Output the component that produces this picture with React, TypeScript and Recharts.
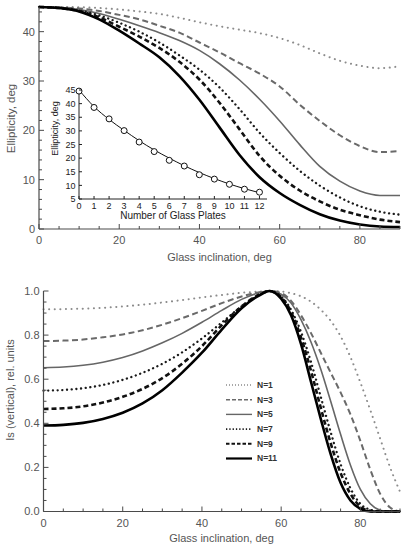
import React from 'react';
import { LineChart, Line, XAxis, YAxis, Legend } from 'recharts';

const FONT = "'Liberation Sans', Arial, Helvetica, sans-serif";
const AXIS_COLOR = '#4a4a4a';
const TICK_TEXT = '#555555';
const TITLE_TEXT = '#555555';

// ---------------- Panel (a): ellipticity vs glass inclination ----------------
const angleA = [0, 5, 10, 15, 20, 25, 30, 35, 40, 45, 50, 55, 60, 65, 70, 75, 80, 85, 90];
const ellipN1 = [45, 45, 44.95, 44.8, 44.5, 44.1, 43.6, 42.8, 41.9, 41.1, 40.4, 39.7, 38.7, 37.3, 35.6, 34.1, 33.1, 32.6, 33.0];
const ellipN3 = [45, 44.9, 44.7, 44.2, 43.4, 42.5, 41.2, 39.8, 37.8, 35.8, 33.6, 31.5, 28.9, 25.2, 21.9, 19.0, 16.8, 15.6, 15.8];
const ellipN5 = [45, 44.9, 44.5, 43.7, 42.5, 41.2, 39.8, 38.2, 36.2, 33.5, 30.2, 26.3, 21.9, 17.1, 12.7, 9.7, 7.7, 6.8, 6.8];
const ellipN7 = [45, 44.8, 44.3, 43.3, 41.8, 40.0, 37.8, 35.2, 32.3, 28.7, 24.3, 19.5, 15.4, 11.8, 8.8, 6.4, 4.6, 3.5, 2.9];
const ellipN9 = [45, 44.8, 44.2, 42.9, 41.0, 39.0, 36.7, 33.9, 30.3, 25.6, 20.2, 14.8, 10.8, 7.8, 5.6, 3.9, 2.8, 1.9, 1.4];
const ellipN11 = [45, 44.8, 44.1, 42.5, 40.2, 37.6, 34.8, 31.0, 26.2, 20.6, 15.0, 10.5, 7.3, 4.9, 3.0, 1.7, 0.9, 0.5, 0.4];

// ---------------- Panel (b): Is (vertical) vs glass inclination ----------------
const angleB = [0, 5, 10, 15, 20, 25, 30, 35, 40, 45, 50, 55, 57, 60, 62.5, 65, 67.5, 70, 72.5, 75, 77.5, 80, 82.5, 85, 87.5, 90];
const isN1 = [0.917, 0.918, 0.92, 0.924, 0.93, 0.938, 0.948, 0.959, 0.971, 0.982, 0.992, 0.998, 1.0, 0.998, 0.99, 0.976, 0.952, 0.915, 0.865, 0.795, 0.7, 0.585, 0.46, 0.33, 0.2, 0.09];
const isN3 = [0.773, 0.775, 0.78, 0.79, 0.803, 0.822, 0.847, 0.877, 0.91, 0.945, 0.975, 0.996, 1.0, 0.99, 0.955, 0.89, 0.81, 0.72, 0.63, 0.54, 0.44, 0.32, 0.19, 0.08, 0.018, 0];
const isN5 = [0.652, 0.655, 0.663, 0.677, 0.698, 0.728, 0.765, 0.808, 0.858, 0.912, 0.962, 0.995, 1.0, 0.985, 0.945, 0.87, 0.77, 0.645, 0.5, 0.35, 0.21, 0.1, 0.035, 0.006, 0, 0];
const isN7 = [0.548, 0.551, 0.559, 0.574, 0.597, 0.629, 0.67, 0.722, 0.785, 0.857, 0.93, 0.988, 1.0, 0.975, 0.915, 0.815, 0.68, 0.52, 0.36, 0.215, 0.105, 0.035, 0.008, 0, 0, 0];
const isN9 = [0.465, 0.468, 0.477, 0.494, 0.52, 0.556, 0.605, 0.67, 0.75, 0.845, 0.93, 0.988, 1.0, 0.972, 0.905, 0.79, 0.64, 0.47, 0.31, 0.175, 0.08, 0.022, 0.003, 0, 0, 0];
const isN11 = [0.39, 0.393, 0.402, 0.42, 0.448, 0.49, 0.55, 0.63, 0.72, 0.825, 0.922, 0.985, 1.0, 0.965, 0.89, 0.76, 0.59, 0.42, 0.26, 0.13, 0.05, 0.012, 0, 0, 0, 0];

// ---------------- Inset: ellipticity vs number of plates ----------------
const plates = [0, 1, 2, 3, 4, 5, 6, 7, 8, 9, 10, 11, 12];
const platesEllip = [44.6, 38.6, 34.4, 30.1, 25.9, 22.4, 19.2, 17.1, 13.9, 12.3, 10.4, 8.6, 7.5];
const platesFit = [45.0, 38.9, 34.2, 30.2, 26.4, 23.0, 20.0, 17.2, 14.7, 12.5, 10.5, 8.8, 7.3];

// ---------------- Ticks ----------------
const xTicks = [0, 5, 10, 15, 20, 25, 30, 35, 40, 45, 50, 55, 60, 65, 70, 75, 80, 85, 90];
const xLabelTicks = [0, 20, 40, 60, 80];
const yTicksA = [0, 2, 4, 6, 8, 10, 12, 14, 16, 18, 20, 22, 24, 26, 28, 30, 32, 34, 36, 38, 40, 42, 44];
const yLabelTicksA = [0, 10, 20, 30, 40];
const yTicksB = [0, 0.05, 0.1, 0.15, 0.2, 0.25, 0.3, 0.35, 0.4, 0.45, 0.5, 0.55, 0.6, 0.65, 0.7, 0.75, 0.8, 0.85, 0.9, 0.95, 1.0];
const yLabelTicksB = [0, 0.2, 0.4, 0.6, 0.8, 1.0];
const insetXTicks = [0, 1, 2, 3, 4, 5, 6, 7, 8, 9, 10, 11, 12];
const insetYTicks = [5, 10, 15, 20, 25, 30, 35, 40, 45];

const seriesNames = ['N=1', 'N=3', 'N=5', 'N=7', 'N=9', 'N=11'];
const seriesKeys = ['n1', 'n3', 'n5', 'n7', 'n9', 'n11'];

const seriesStyles = [
  { stroke: '#8c8c8c', width: 2, dash: '0.1 5.5', cap: 'round' },
  { stroke: '#6a6a6a', width: 2, dash: '6 3.5', cap: 'butt' },
  { stroke: '#666666', width: 1.6, dash: undefined, cap: 'butt' },
  { stroke: '#1a1a1a', width: 2.3, dash: '0.1 4.6', cap: 'round' },
  { stroke: '#111111', width: 2.6, dash: '5 3', cap: 'butt' },
  { stroke: '#000000', width: 2.6, dash: undefined, cap: 'butt' },
];
const legendStyles = [
  { stroke: '#8c8c8c', width: 1.3, dash: '1 2' },
  { stroke: '#6a6a6a', width: 1.4, dash: '4 2' },
  { stroke: '#666666', width: 1.4, dash: undefined },
  { stroke: '#1a1a1a', width: 1.8, dash: '1.3 2' },
  { stroke: '#111111', width: 2.1, dash: '3.5 2' },
  { stroke: '#000000', width: 2.2, dash: undefined },
];

const ellipSeries = [ellipN1, ellipN3, ellipN5, ellipN7, ellipN9, ellipN11];
const isSeries = [isN1, isN3, isN5, isN7, isN9, isN11];

const dataA = angleA.map((a, i) => {
  const row: any = { angle: a };
  seriesKeys.forEach((k, s) => (row[k] = ellipSeries[s][i]));
  return row;
});
const dataB = angleB.map((a, i) => {
  const row: any = { angle: a };
  seriesKeys.forEach((k, s) => (row[k] = isSeries[s][i]));
  return row;
});
const dataInset = plates.map((p, i) => ({ plate: p, measured: platesEllip[i], fit: platesFit[i] }));

// ---------------- Tick renderer (inward ticks, outside labels) ----------------
type TickOpts = {
  side: 'bottom' | 'top' | 'left' | 'right';
  majors: number[];
  major: number;
  minor: number;
  showLabel?: boolean;
  fmt?: (v: number) => string;
  gap?: number;
  fontSize?: number;
  color?: string;
  lineColor?: string;
};

const isIn = (v: number, arr: number[]) => arr.some((m) => Math.abs(m - v) < 1e-6);

function makeTick(o: TickOpts) {
  return (props: any) => {
    const { x, y, payload } = props;
    const v = Number(payload.value);
    const maj = isIn(v, o.majors);
    const len = maj ? o.major : o.minor;
    const stroke = o.lineColor || AXIS_COLOR;
    let x2 = x;
    let y2 = y;
    if (o.side === 'bottom') y2 = y - len;
    if (o.side === 'top') y2 = y + len;
    if (o.side === 'left') x2 = x + len;
    if (o.side === 'right') x2 = x - len;
    const txt = o.fmt ? o.fmt(v) : String(v);
    const fs = o.fontSize || 11;
    const col = o.color || TICK_TEXT;
    let label: any = null;
    if (o.showLabel && maj) {
      if (o.side === 'bottom') {
        label = (
          <text x={x} y={y + (o.gap || 14)} textAnchor="middle" fontSize={fs} fill={col} fontFamily={FONT}>
            {txt}
          </text>
        );
      } else if (o.side === 'left') {
        label = (
          <text x={x - (o.gap || 4)} y={y} dy="0.36em" textAnchor="end" fontSize={fs} fill={col} fontFamily={FONT}>
            {txt}
          </text>
        );
      }
    }
    return (
      <g>
        <line x1={x} y1={y} x2={x2} y2={y2} stroke={stroke} strokeWidth={1} />
        {label}
      </g>
    );
  };
}

const FixedText = (p: any) => (
  <text
    x={p.tx}
    y={p.ty}
    textAnchor={p.anchor || 'middle'}
    fontSize={p.size || 11}
    fill={p.color || TITLE_TEXT}
    fontFamily={FONT}
    fontWeight={p.weight || 'normal'}
    transform={p.rotate ? `rotate(-90 ${p.tx} ${p.ty})` : undefined}
  >
    {p.text}
  </text>
);

function renderSeries() {
  return seriesKeys.map((k, s) => {
    const st = seriesStyles[s];
    return (
      <Line
        key={k}
        xAxisId="b"
        yAxisId="l"
        type="monotone"
        dataKey={k}
        stroke={st.stroke}
        strokeWidth={st.width}
        strokeDasharray={st.dash}
        strokeLinecap={st.cap as any}
        dot={false}
        activeDot={false}
        isAnimationActive={false}
      />
    );
  });
}

const LegendBox = () => (
  <svg width={70} height={92} style={{ display: 'block', overflow: 'visible' }}>
    {seriesNames.map((n, i) => {
      const st = legendStyles[i];
      const cy = 7 + i * 14.7;
      return (
        <g key={n}>
          <line x1={2} y1={cy} x2={28} y2={cy} stroke={st.stroke} strokeWidth={st.width} strokeDasharray={st.dash} />
          <text x={33} y={cy} dy="0.35em" fontSize={8.5} fontWeight="bold" fill="#333" fontFamily={FONT}>
            {n}
          </text>
        </g>
      );
    })}
  </svg>
);

export default function App() {
  const axisLine = { stroke: AXIS_COLOR, strokeWidth: 1.2 };
  return (
    <div style={{ position: 'absolute', left: 0, top: 0, width: 407, height: 550, background: '#fff', fontFamily: FONT }}>
      {/* Panel (a) */}
      <div style={{ position: 'absolute', left: 0, top: 0 }}>
        <LineChart width={407} height={270} data={dataA} margin={{ top: 7, right: 7, bottom: 0, left: 0 }}>
          <XAxis
            xAxisId="b"
            dataKey="angle"
            type="number"
            domain={[0, 90]}
            ticks={xTicks}
            interval={0}
            height={41}
            tickSize={0}
            tickMargin={0}
            axisLine={axisLine}
            tickLine={false}
            tick={makeTick({ side: 'bottom', majors: xLabelTicks, major: 5, minor: 3, showLabel: true, gap: 14.5 })}
            label={<FixedText tx={219.5} ty={260.5} text="Glass inclination, deg" size={11} />}
          />
          <XAxis
            xAxisId="t"
            orientation="top"
            dataKey="angle"
            type="number"
            domain={[0, 90]}
            ticks={xTicks}
            interval={0}
            height={0}
            tickSize={0}
            tickMargin={0}
            axisLine={axisLine}
            tickLine={false}
            tick={makeTick({ side: 'top', majors: xLabelTicks, major: 5, minor: 3 })}
            label={<FixedText tx={53} ty={44.6} text="(a)" size={16.5} anchor="start" color="#333" />}
          />
          <YAxis
            yAxisId="l"
            type="number"
            domain={[0, 45]}
            ticks={yTicksA}
            interval={0}
            width={39}
            tickSize={0}
            tickMargin={0}
            axisLine={axisLine}
            tickLine={false}
            tick={makeTick({ side: 'left', majors: yLabelTicksA, major: 5, minor: 3, showLabel: true, gap: 4 })}
            label={<FixedText tx={15} ty={118.5} text="Ellipticity, deg" size={11.5} rotate />}
          />
          <YAxis
            yAxisId="r"
            orientation="right"
            type="number"
            domain={[0, 45]}
            ticks={yTicksA}
            interval={0}
            width={0}
            tickSize={0}
            tickMargin={0}
            axisLine={axisLine}
            tickLine={false}
            tick={makeTick({ side: 'right', majors: yLabelTicksA, major: 5, minor: 3 })}
          />
          {renderSeries()}
        </LineChart>
      </div>

      {/* Inset */}
      <div style={{ position: 'absolute', left: 40, top: 80 }}>
        <LineChart width={232} height={145} data={dataInset} margin={{ top: 10, right: 5, bottom: 0, left: 0 }}>
          <XAxis
            dataKey="plate"
            type="number"
            domain={[0, 12.5]}
            ticks={insetXTicks}
            interval={0}
            height={26}
            tickSize={0}
            tickMargin={0}
            axisLine={{ stroke: '#222', strokeWidth: 1 }}
            tickLine={false}
            tick={makeTick({ side: 'bottom', majors: insetXTicks, major: 3, minor: 3, showLabel: true, gap: 9.8, fontSize: 9, color: '#222', lineColor: '#222' })}
            label={<FixedText tx={133} ty={138.5} text="Number of Glass Plates" size={10} color="#222" />}
          />
          <YAxis
            type="number"
            domain={[5, 45]}
            ticks={insetYTicks}
            interval={0}
            width={39}
            tickSize={0}
            tickMargin={0}
            axisLine={{ stroke: '#222', strokeWidth: 1 }}
            tickLine={false}
            tick={makeTick({ side: 'left', majors: insetYTicks, major: 3, minor: 3, showLabel: true, gap: 3.5, fontSize: 9, color: '#222', lineColor: '#222' })}
            label={<FixedText tx={18} ty={48.5} text="Ellipticity, deg" size={9} color="#222" rotate />}
          />
          <Line type="monotone" dataKey="fit" stroke="#111" strokeWidth={1} dot={false} activeDot={false} isAnimationActive={false} />
          <Line
            type="monotone"
            dataKey="measured"
            stroke="none"
            dot={{ r: 3, fill: '#fff', stroke: '#111', strokeWidth: 1 }}
            activeDot={false}
            isAnimationActive={false}
          />
        </LineChart>
      </div>

      {/* Panel (b) */}
      <div style={{ position: 'absolute', left: 0, top: 270 }}>
        <LineChart width={407} height={280} data={dataB} margin={{ top: 21, right: 7, bottom: 0, left: 0 }}>
          <XAxis
            xAxisId="b"
            dataKey="angle"
            type="number"
            domain={[0, 90]}
            ticks={xTicks}
            interval={0}
            height={38.5}
            tickSize={0}
            tickMargin={0}
            axisLine={axisLine}
            tickLine={false}
            tick={makeTick({ side: 'bottom', majors: xLabelTicks, major: 5, minor: 3, showLabel: true, gap: 15.5 })}
            label={<FixedText tx={221.5} ty={271.5} text="Glass inclination, deg" size={11} />}
          />
          <XAxis
            xAxisId="t"
            orientation="top"
            dataKey="angle"
            type="number"
            domain={[0, 90]}
            ticks={xTicks}
            interval={0}
            height={0}
            tickSize={0}
            tickMargin={0}
            axisLine={axisLine}
            tickLine={false}
            tick={makeTick({ side: 'top', majors: xLabelTicks, major: 5, minor: 3 })}
            label={<FixedText tx={50} ty={59.6} text="(b)" size={16.5} anchor="start" color="#333" />}
          />
          <YAxis
            yAxisId="l"
            type="number"
            domain={[0, 1]}
            ticks={yTicksB}
            interval={0}
            width={43.5}
            tickSize={0}
            tickMargin={0}
            axisLine={axisLine}
            tickLine={false}
            tick={makeTick({ side: 'left', majors: yLabelTicksB, major: 5, minor: 3, showLabel: true, gap: 4, fmt: (v) => v.toFixed(1) })}
            label={<FixedText tx={14} ty={120} text="Is (vertical), rel. units" size={11} rotate />}
          />
          <YAxis
            yAxisId="r"
            orientation="right"
            type="number"
            domain={[0, 1]}
            ticks={yTicksB}
            interval={0}
            width={0}
            tickSize={0}
            tickMargin={0}
            axisLine={axisLine}
            tickLine={false}
            tick={makeTick({ side: 'right', majors: yLabelTicksB, major: 5, minor: 3 })}
          />
          <Legend
            layout="horizontal"
            verticalAlign="middle"
            align="center"
            content={() => <LegendBox />}
            wrapperStyle={{ left: 224, top: 108, width: 70, height: 92 }}
          />
          {renderSeries()}
        </LineChart>
      </div>
    </div>
  );
}
